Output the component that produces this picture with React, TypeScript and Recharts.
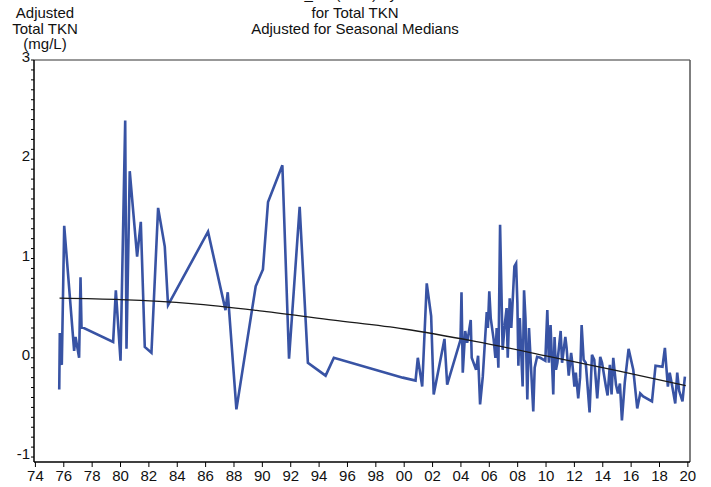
import React from 'react';
import { LineChart, Line, XAxis, YAxis, ReferenceLine } from 'recharts';

// observation dates (decimal years) and seasonally adjusted TKN (mg/L)
const sampleYears = [
  1975.68, 1975.72, 1975.8, 1975.86, 1976.03, 1976.73, 1976.83, 1977.08, 1977.18, 1977.25,
  1979.48, 1979.67, 1980.0, 1980.33, 1980.42, 1980.65, 1981.17, 1981.43, 1981.71, 1982.18,
  1982.65, 1983.12, 1983.35, 1986.17, 1987.4, 1987.56, 1988.17, 1989.53, 1990.04, 1990.4,
  1991.41, 1991.88, 1992.63, 1993.21, 1994.46, 1995.04, 1999.9, 2000.8, 2000.96, 2001.27,
  2001.59, 2001.9, 2002.08, 2002.84, 2003.03, 2003.97, 2004.04, 2004.13, 2004.3, 2004.44,
  2004.69, 2004.76, 2005.07, 2005.21, 2005.35, 2005.54, 2005.82, 2005.9, 2006.0, 2006.1,
  2006.31, 2006.43, 2006.52, 2006.64, 2006.76, 2006.94, 2007.1, 2007.22, 2007.3, 2007.44,
  2007.55, 2007.77, 2007.89, 2007.98, 2008.05, 2008.15, 2008.35, 2008.45, 2008.55, 2008.68,
  2008.8, 2009.1, 2009.2, 2009.37, 2009.6, 2009.95, 2010.09, 2010.2, 2010.32, 2010.51,
  2010.6, 2010.7, 2010.8, 2011.03, 2011.13, 2011.36, 2011.45, 2011.6, 2011.77, 2011.85,
  2012.0, 2012.1, 2012.27, 2012.4, 2012.51, 2012.65, 2012.8, 2013.07, 2013.24, 2013.4,
  2013.61, 2013.82, 2013.95, 2014.22, 2014.34, 2014.5, 2014.62, 2014.74, 2014.93, 2015.07,
  2015.21, 2015.35, 2015.55, 2015.82, 2016.15, 2016.43, 2016.64, 2016.85, 2017.47, 2017.72,
  2018.21, 2018.38, 2018.48, 2018.59, 2018.72, 2018.9, 2019.11, 2019.25, 2019.38, 2019.51,
  2019.62, 2019.79
];
const adjustedTkn = [
  -0.32, 0.25, -0.05, -0.07, 1.33, 0.07, 0.21, 0.0, 0.81, 0.31,
  0.16, 0.68, -0.03, 2.39, 0.09, 1.88, 1.02, 1.37, 0.11, 0.05,
  1.51, 1.12, 0.53, 1.27, 0.48, 0.66, -0.52, 0.72, 0.89, 1.57,
  1.94, -0.01, 1.52, -0.05, -0.18, 0.0, -0.2, -0.23, 0.0, -0.29,
  0.75, 0.42, -0.37, 0.19, -0.27, 0.18, 0.66, -0.15, 0.27, 0.15,
  0.38, 0.0, -0.12, 0.02, -0.47, -0.19, 0.46, 0.3, 0.67, 0.4,
  0.18, 0.0, 0.3, -0.1, 1.34, 0.08, 0.35, 0.5, 0.0, 0.6,
  0.3, 0.92, 0.95, 0.55, -0.08, 0.4, -0.29, 0.68, 0.4, -0.42,
  0.3, -0.54, -0.1, 0.01, 0.0, -0.03, 0.48, -0.05, 0.33, -0.37,
  0.21, -0.12, -0.05, 0.27, -0.05, 0.21, 0.1, -0.18, 0.05, -0.05,
  -0.29, -0.15, -0.41, -0.2, 0.33, -0.02, -0.05, -0.55, 0.03, -0.02,
  -0.41, 0.01, -0.05, -0.29, -0.38, -0.07, -0.37, 0.0, -0.27, -0.36,
  -0.26, -0.63, -0.25, 0.09, -0.12, -0.51, -0.36, -0.39, -0.44, -0.08,
  -0.09, 0.1, -0.09, -0.29, -0.15, -0.29, -0.46, -0.15, -0.33, -0.39,
  -0.44, -0.19
];

// smooth trend curve
const trendYears = [1975.7, 1980, 1985, 1990, 1995, 2000, 2005, 2010, 2015, 2019.85];
const trendValues = [0.6, 0.585, 0.545, 0.47, 0.38, 0.29, 0.165, 0.02, -0.13, -0.28];

const xTicks = [1974, 1976, 1978, 1980, 1982, 1984, 1986, 1988, 1990, 1992, 1994, 1996, 1998,
  2000, 2002, 2004, 2006, 2008, 2010, 2012, 2014, 2016, 2018, 2020];
const yLabels = [-1, 0, 1, 2, 3];

const X_MIN = 1973.9;
const X_MAX = 2020.15;
const Y_MIN = -1.05;
const Y_MAX = 3;

const FONT = '"Liberation Sans", Arial, sans-serif';

const yTicks: number[] = [];
for (let i = -10; i <= 30; i++) yTicks.push(i / 10);

const seriesData = sampleYears.map((x, i) => ({ x, y: adjustedTkn[i] }));
const trendData = trendYears.map((x, i) => ({ x, y: trendValues[i] }));

const YTick = (props: any) => {
  const { x, y, payload } = props;
  const v = payload.value;
  const major = yLabels.some((l) => Math.abs(l - v) < 1e-6);
  return (
    <g>
      <line x1={x - 3} x2={x} y1={y} y2={y} stroke="#000" strokeWidth={1} />
      {major && (
        <text x={x - 4} y={y + 2} textAnchor="end" fontSize={15} fontFamily={FONT} fill="#111">
          {v}
        </text>
      )}
    </g>
  );
};

const XTick = (props: any) => {
  const { x, y, payload } = props;
  const label = String(payload.value % 100).padStart(2, '0');
  return (
    <g>
      <line x1={x} x2={x} y1={y} y2={y + 5} stroke="#000" strokeWidth={1} />
      <text x={x} y={y + 19} textAnchor="middle" fontSize={15} fontFamily={FONT} fill="#111">
        {label}
      </text>
    </g>
  );
};

export default function App() {
  return (
    <div style={{ position: 'absolute', left: 0, top: 0, width: 711, height: 487, background: '#fff' }}>
      <LineChart width={711} height={487} margin={{ top: 60, right: 21, bottom: 0, left: 0 }}>
        <text x={355} y={-1} textAnchor="middle" fontSize={15} fontFamily={FONT} fill="#111">
          Station_A1 (Flow) by Season
        </text>
        <text x={355} y={17.5} textAnchor="middle" fontSize={15} fontFamily={FONT} fill="#111">
          for Total TKN
        </text>
        <text x={355} y={34} textAnchor="middle" fontSize={15} fontFamily={FONT} fill="#111">
          Adjusted for Seasonal Medians
        </text>
        <text x={45} y={17.5} textAnchor="middle" fontSize={15} fontFamily={FONT} fill="#111">
          Adjusted
        </text>
        <text x={45} y={34} textAnchor="middle" fontSize={15} fontFamily={FONT} fill="#111">
          Total TKN
        </text>
        <text x={45} y={49} textAnchor="middle" fontSize={15} fontFamily={FONT} fill="#111">
          (mg/L)
        </text>
        <XAxis
          type="number"
          dataKey="x"
          domain={[X_MIN, X_MAX]}
          allowDataOverflow
          ticks={xTicks}
          interval={0}
          height={25}
          tickSize={0}
          tickMargin={0}
          tickLine={false}
          tick={<XTick />}
          axisLine={{ stroke: '#000', strokeWidth: 1.5 }}
        />
        <YAxis
          type="number"
          dataKey="y"
          domain={[Y_MIN, Y_MAX]}
          allowDataOverflow
          ticks={yTicks}
          interval={0}
          width={34}
          tickSize={0}
          tickMargin={0}
          tickLine={false}
          tick={<YTick />}
          axisLine={{ stroke: '#000', strokeWidth: 1.5 }}
        />
        <ReferenceLine y={Y_MAX} stroke="#333" strokeWidth={1.2} />
        <ReferenceLine x={X_MAX} stroke="#555" strokeWidth={1.5} />
        <Line
          data={seriesData}
          dataKey="y"
          type="linear"
          stroke="#3853a4"
          strokeWidth={2.6}
          dot={false}
          isAnimationActive={false}
        />
        <Line
          data={trendData}
          dataKey="y"
          type="monotone"
          stroke="#1a1a1a"
          strokeWidth={1.3}
          dot={false}
          isAnimationActive={false}
        />
      </LineChart>
    </div>
  );
}
